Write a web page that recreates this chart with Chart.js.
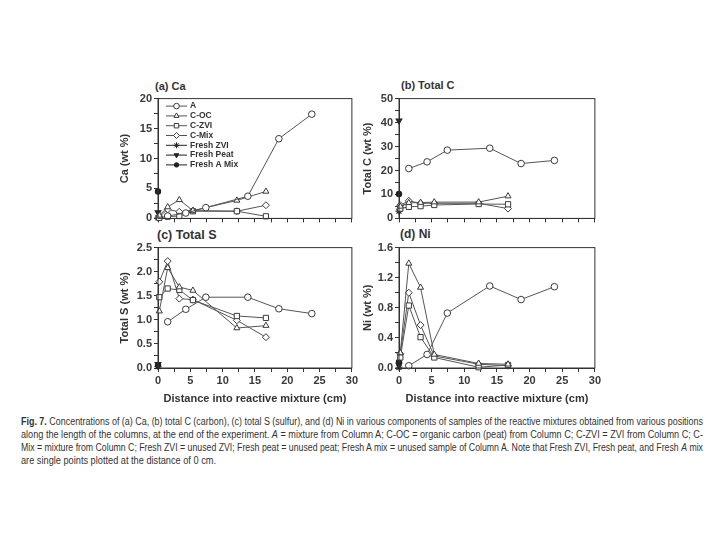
<!DOCTYPE html>
<html>
<head>
<meta charset="utf-8">
<script src="https://cdn.jsdelivr.net/npm/chart.js@4.4.1/dist/chart.umd.min.js"></script>
<style>
  body { margin: 0; background: #fff; width: 720px; height: 540px; position: relative; overflow: hidden;
         font-family: "Liberation Sans", Arial, sans-serif; }
  .panel { position: absolute; }
  .ptitle { position: absolute; font-weight: bold; color: #333; white-space: nowrap; line-height: 12px; }
  .cap { position: absolute; left: 21px; font-family: "Liberation Sans Narrow", "Liberation Sans", sans-serif;
         font-size: 10px; line-height: 12px; color: #333; white-space: nowrap; transform-origin: 0 0; }
</style>
</head>
<body>
<div class="ptitle" style="left:155px;top:80px;font-size:11px">(a) Ca</div>
<div class="ptitle" style="left:401px;top:79px;font-size:11px">(b) Total C</div>
<div class="ptitle" style="left:157px;top:229px;font-size:12.5px">(c) Total S</div>
<div class="ptitle" style="left:400px;top:228px;font-size:12px">(d) Ni</div>

<div class="panel" style="left:113px;top:90px;width:247px;height:137px"><canvas id="chartCa"></canvas></div>
<div class="panel" style="left:354px;top:90px;width:249px;height:137px"><canvas id="chartC"></canvas></div>
<div class="panel" style="left:113px;top:239px;width:247px;height:169px"><canvas id="chartS"></canvas></div>
<div class="panel" style="left:354px;top:239px;width:249px;height:169px"><canvas id="chartNi"></canvas></div>

<div class="cap" data-w="682" style="top:416px"><b>Fig. 7.</b> Concentrations of (a) Ca, (b) total C (carbon), (c) total S (sulfur), and (d) Ni in various components of samples of the reactive mixtures obtained from various positions</div>
<div class="cap" data-w="682" style="top:429px">along the length of the columns, at the end of the experiment. <i>A</i> = mixture from Column A; C-OC = organic carbon (peat) from Column C; C-ZVI = ZVI from Column C; C-</div>
<div class="cap" data-w="682" style="top:442px">Mix = mixture from Column C; Fresh ZVI = unused ZVI; Fresh peat = unused peat; Fresh A mix = unused sample of Column A. Note that Fresh ZVI, Fresh peat, and Fresh <i>A</i> mix</div>
<div class="cap" data-w="195" style="top:455px">are single points plotted at the distance of 0 cm.</div>

<script>
// sample positions (cm)
const distA = [1.5, 4.3, 7.4, 13.9, 18.7, 23.8];
const distC = [0.2, 1.5, 3.3, 5.4, 12.2, 16.7];

const seriesNames = ["A", "C-OC", "C-ZVI", "C-Mix", "Fresh ZVI", "Fresh Peat", "Fresh A Mix"];

// (a) Ca
const caA = [0.4, 0.9, 1.8, 3.7, 13.3, 17.4];
const caOC = [0.5, 1.9, 3.1, 1.3, 3.0, 4.5];
const caZVI = [0.1, 0.3, 0.4, 1.2, 1.2, 0.35];
const caMix = [0.3, 1.5, 1.1, 1.3, 1.2, 2.2];
const caFresh = [0.1, 1.0, 4.5]; // ZVI, peat, A mix

// (b) Total C
const tcA = [20.8, 23.6, 28.5, 29.3, 22.9, 24.2];
const tcOC = [5.0, 6.5, 6.6, 6.8, 6.8, 9.3];
const tcZVI = [4.1, 4.8, 5.1, 5.6, 6.0, 5.9];
const tcMix = [5.5, 7.3, 6.3, 6.3, 6.3, 4.1];
const tcFresh = [3.0, 40.8, 10.2];

// (c) Total S
const tsA = [0.96, 1.22, 1.47, 1.47, 1.23, 1.13];
const tsOC = [1.18, 2.08, 1.68, 1.61, 0.83, 0.88];
const tsZVI = [1.47, 1.65, 1.62, 1.41, 1.08, 1.04];
const tsMix = [1.79, 2.22, 1.44, 1.42, 0.99, 0.64];
const tsFresh = [0.03, 0.08, 0.06];

// (d) Ni
const niA = [0.03, 0.18, 0.73, 1.09, 0.91, 1.08];
const niOC = [0.20, 1.39, 1.07, 0.18, 0.06, 0.05];
const niZVI = [0.14, 0.83, 0.41, 0.14, 0.01, 0.04];
const niMix = [0.19, 1.00, 0.57, 0.16, 0.05, 0.03];
const niFresh = [0.01, 0.04, 0.08];

const xTicks = [0, 5, 10, 15, 20, 25, 30];

Chart.defaults.font.family = "'Liberation Sans', Arial, sans-serif";
Chart.defaults.animation = false;

const LINE = "#555";
const EDGE = "#3a3a3a";
const DARK = "#222";

const styles = [
  { pointStyle: "circle", pointRadius: 3.3 },
  { pointStyle: "triangle", pointRadius: 3.5 },
  { pointStyle: "rect", pointRadius: 3.7 },
  { pointStyle: "rectRot", pointRadius: 3.5 },
  { pointStyle: "star", pointRadius: 3.5, fill: DARK },
  { pointStyle: "triangle", pointRadius: 3.2, pointRotation: 180, fill: DARK },
  { pointStyle: "circle", pointRadius: 2.6, fill: DARK }
];

function pts(xs, ys) {
  return ys.map((y, i) => ({ x: xs[i], y }));
}

function buildSets(a, oc, zvi, mix, fresh) {
  const lines = [pts(distA, a), pts(distC, oc), pts(distC, zvi), pts(distC, mix)];
  const sets = lines.map((data, i) => ({
    label: seriesNames[i],
    data,
    showLine: true,
    borderColor: LINE,
    borderWidth: 1,
    pointStyle: styles[i].pointStyle,
    pointRadius: styles[i].pointRadius,
    pointBackgroundColor: "#fff",
    pointBorderColor: EDGE,
    pointBorderWidth: 1,
    clip: false
  }));
  fresh.forEach((y, j) => {
    const s = styles[4 + j];
    sets.push({
      label: seriesNames[4 + j],
      data: [{ x: 0, y }],
      showLine: false,
      pointStyle: s.pointStyle,
      pointRadius: s.pointRadius,
      pointRotation: s.pointRotation || 0,
      pointBackgroundColor: s.fill,
      pointBorderColor: s.fill,
      pointBorderWidth: 1.2,
      clip: false
    });
  });
  return sets;
}

// closed frame round the plot area
const framePlugin = {
  id: "frame",
  afterDraw(chart) {
    const { ctx, chartArea: a } = chart;
    ctx.save();
    ctx.strokeStyle = "#333";
    ctx.lineWidth = 1;
    ctx.strokeRect(a.left, a.top, a.right - a.left, a.bottom - a.top);
    ctx.restore();
  }
};

// legend with line + marker, inside panel (a)
const lineLegend = {
  id: "lineLegend",
  afterDraw(chart, args, opts) {
    if (!opts.show) return;
    const { ctx, chartArea: a } = chart;
    ctx.save();
    ctx.font = "bold 8.5px 'Liberation Sans', Arial, sans-serif";
    ctx.textBaseline = "middle";
    chart.data.datasets.forEach((ds, i) => {
      const y = a.top + 7.5 + i * 9.8;
      const x1 = a.left + 8, x2 = a.left + 29;
      ctx.strokeStyle = i < 4 ? LINE : DARK;
      ctx.lineWidth = 1;
      ctx.beginPath();
      ctx.moveTo(x1, y);
      ctx.lineTo(x2, y);
      ctx.stroke();
      ctx.fillStyle = ds.pointBackgroundColor;
      ctx.strokeStyle = ds.pointBorderColor;
      Chart.helpers.drawPoint(ctx, {
        pointStyle: ds.pointStyle,
        radius: ds.pointRadius * 0.85,
        rotation: ds.pointRotation || 0,
        borderWidth: 1
      }, (x1 + x2) / 2, y);
      ctx.fillStyle = "#333";
      ctx.fillText(ds.label, a.left + 32, y);
    });
    ctx.restore();
  }
};

function isMajor(v, step) {
  return Math.abs(v / step - Math.round(v / step)) < 1e-6;
}

function makePanel(id, sets, y, bottom, yTitlePad, legend) {
  return new Chart(document.getElementById(id), {
    type: "scatter",
    data: { datasets: sets },
    plugins: [framePlugin, lineLegend],
    options: {
      responsive: true,
      maintainAspectRatio: false,
      layout: { padding: { top: 7, right: 6, left: 0, bottom: 0 } },
      plugins: {
        legend: { display: false },
        tooltip: { enabled: false },
        lineLegend: { show: legend }
      },
      scales: {
        x: {
          type: "linear",
          min: 0, max: 30,
          afterFit: s => { s.height = bottom ? 40 : 8; },
          border: { color: "#333", width: 1 },
          grid: { drawOnChartArea: false, drawTicks: true, tickLength: 4, color: "#333" },
          ticks: {
            stepSize: 2.5,
            autoSkip: false,
            maxRotation: 0,
            padding: 2,
            color: bottom ? "#3a3a3a" : "rgba(0,0,0,0)",
            font: { size: 11, weight: "bold" },
            callback: v => (xTicks.some(t => isMajor(v - t, 1)) ? v : "")
          },
          title: {
            display: bottom,
            text: "Distance into reactive mixture (cm)",
            color: "#333",
            font: { size: 11, weight: "bold" },
            padding: { top: 0, bottom: 2 }
          }
        },
        y: {
          min: 0, max: y.max,
          afterFit: s => { s.width = 45; },
          border: { color: "#333", width: 1 },
          grid: { drawOnChartArea: false, drawTicks: true, tickLength: 4, color: "#333" },
          ticks: {
            stepSize: y.step,
            autoSkip: false,
            padding: 2,
            color: "#3a3a3a",
            font: { size: 11, weight: "bold" },
            callback: v => (isMajor(v, y.major) ? (y.dec ? v.toFixed(y.dec) : v) : "")
          },
          title: {
            display: true,
            text: y.title,
            color: "#333",
            font: { size: 11, weight: "bold" },
            padding: { top: yTitlePad, bottom: 0 }
          }
        }
      }
    }
  });
}

makePanel("chartCa", buildSets(caA, caOC, caZVI, caMix, caFresh),
  { max: 20, step: 2.5, major: 5, title: "Ca (wt %)" }, false, 5, true);
makePanel("chartC", buildSets(tcA, tcOC, tcZVI, tcMix, tcFresh),
  { max: 50, step: 5, major: 10, title: "Total C (wt %)" }, false, 7, false);
makePanel("chartS", buildSets(tsA, tsOC, tsZVI, tsMix, tsFresh),
  { max: 2.5, step: 0.25, major: 0.5, dec: 1, title: "Total S (wt %)" }, true, 5, false);
makePanel("chartNi", buildSets(niA, niOC, niZVI, niMix, niFresh),
  { max: 1.6, step: 0.2, major: 0.4, dec: 1, title: "Ni (wt %)" }, true, 7, false);

// stretch each caption line to the width it has in the figure
document.querySelectorAll(".cap").forEach(el => {
  const w = el.getBoundingClientRect().width;
  el.style.transform = "scaleX(" + (Number(el.dataset.w) / w) + ")";
});
</script>
</body>
</html>
